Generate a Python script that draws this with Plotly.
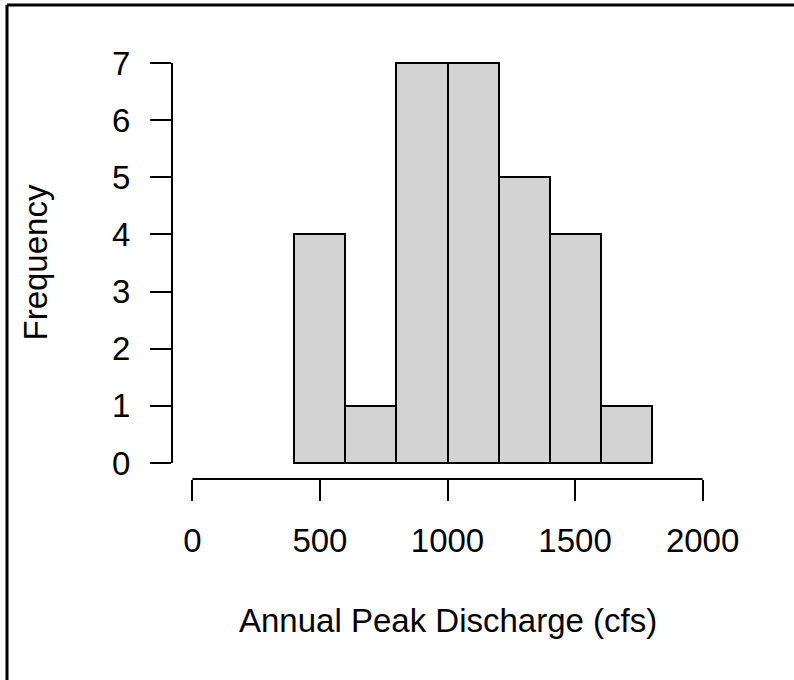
import plotly.graph_objects as go

# Histogram data (R-style hist, breaks of 200 cfs)
bin_edges = [400, 600, 800, 1000, 1200, 1400, 1600, 1800]
counts = [4, 1, 7, 7, 5, 4, 1]
x_ticks = [0, 500, 1000, 1500, 2000]
y_ticks = [0, 1, 2, 3, 4, 5, 6, 7]
x_title = "Annual Peak Discharge (cfs)"
y_title = "Frequency"

W, H = 794, 680
L, R, T, B = 172, 71, 47, 201
pw, ph = W - L - R, H - T - B

centers = [(a + b) / 2 for a, b in zip(bin_edges[:-1], bin_edges[1:])]
widths = [b - a for a, b in zip(bin_edges[:-1], bin_edges[1:])]

font = dict(family="Liberation Sans, Arial, sans-serif", size=33, color="black")

fig = go.Figure()
fig.add_trace(go.Bar(
    x=centers, y=counts, width=widths,
    marker=dict(color="#D3D3D3", line=dict(color="black", width=2)),
    hoverinfo="skip",
))

xr = x_ticks[-1] - x_ticks[0]
yr = y_ticks[-1] - y_ticks[0]


def px_x(p):
    return (p - L) / pw


def px_y(p):
    return (H - B - p) / ph


shapes = [
    # axis lines spanning first to last tick (R style)
    dict(type="line", xref="x", yref="paper", x0=x_ticks[0], x1=x_ticks[-1], y0=0, y1=0,
         line=dict(color="black", width=2)),
    dict(type="line", xref="paper", yref="y", x0=0, x1=0, y0=y_ticks[0], y1=y_ticks[-1],
         line=dict(color="black", width=2)),
    # outer frame (top and left visible)
    dict(type="line", xref="paper", yref="paper", x0=px_x(7), x1=px_x(W + 5), y0=px_y(5), y1=px_y(5),
         line=dict(color="black", width=3)),
    dict(type="line", xref="paper", yref="paper", x0=px_x(7), x1=px_x(7), y0=px_y(5), y1=px_y(H + 5),
         line=dict(color="black", width=3)),
]

annotations = [
    dict(text=x_title, xref="paper", yref="paper", x=0.5, y=px_y(641), xanchor="center",
         yanchor="bottom", showarrow=False, font=font),
    dict(text=y_title, xref="paper", yref="paper", x=px_x(14), y=0.5, xanchor="left",
         yanchor="middle", textangle=-90, showarrow=False, font=font),
]

fig.update_layout(
    width=W, height=H,
    margin=dict(l=L, r=R, t=T, b=B, pad=0),
    paper_bgcolor="white", plot_bgcolor="white",
    showlegend=False,
    bargap=0,
    font=font,
    xaxis=dict(range=[x_ticks[0] - 0.04 * xr, x_ticks[-1] + 0.04 * xr], tickvals=x_ticks,
               ticktext=[str(v) for v in x_ticks], ticks="outside", ticklen=21, tickwidth=2,
               tickcolor="black", showline=False, showgrid=False, zeroline=False,
               ticklabelstandoff=11),
    yaxis=dict(range=[y_ticks[0] - 0.04 * yr, y_ticks[-1] + 0.04 * yr], tickvals=y_ticks,
               ticktext=[str(v) for v in y_ticks], ticks="outside", ticklen=21, tickwidth=2,
               tickcolor="black", showline=False, showgrid=False, zeroline=False,
               ticklabelstandoff=13),
    shapes=shapes,
    annotations=annotations,
)

fig.write_html("out.html")
